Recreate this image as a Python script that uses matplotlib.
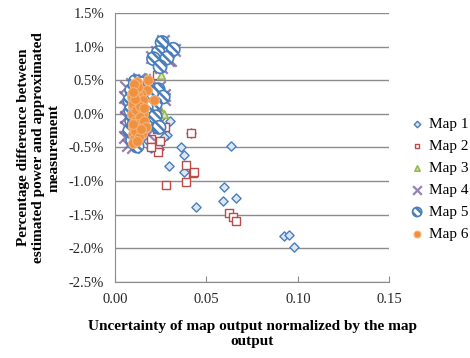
import matplotlib.pyplot as plt
from matplotlib.ticker import FuncFormatter

# Data (x: normalized uncertainty, y: percentage difference in %)
map1_x = [0.0635, 0.0597, 0.0590, 0.0660, 0.0925, 0.0950, 0.0980, 0.0416, 0.0361, 0.0378,
          0.0294, 0.0378, 0.0443, 0.0284, 0.0210, 0.0197, 0.0240, 0.0270, 0.0236, 0.0180,
          0.0150, 0.0120, 0.0100, 0.0130, 0.0160, 0.0210, 0.0250, 0.0300]
map1_y = [-0.48, -1.09, -1.29, -1.25, -1.82, -1.80, -1.98, -0.28, -0.49, -0.61,
          -0.77, -0.87, -1.39, -0.31, -0.19, -0.51, -0.52, -0.34, -0.49, -0.40,
          -0.30, -0.45, 0.10, 0.30, -0.20, 0.20, -0.05, -0.10]

map2_x = [0.0624, 0.0646, 0.0662, 0.0279, 0.0389, 0.0427, 0.0416, 0.0388, 0.0432, 0.0275,
          0.0230, 0.0197, 0.0246, 0.0236, 0.0197, 0.0230, 0.0160, 0.0120]
map2_y = [-1.47, -1.53, -1.59, -1.05, -1.02, -0.88, -0.28, -0.76, -0.86, -0.20,
          -0.23, -0.37, -0.40, -0.57, -0.50, 0.58, -0.10, 0.20]

map3_x = [0.0120, 0.0170, 0.0250, 0.0240, 0.0270, 0.0200, 0.0100, 0.0220]
map3_y = [-0.50, 0.55, 0.57, 0.10, 0.00, 0.30, -0.45, -0.05]

map4_x = [0.0260, 0.0320, 0.0230, 0.0290, 0.0200, 0.0250, 0.0240, 0.0270, 0.0220, 0.0060,
          0.0055, 0.0060, 0.0058, 0.0060, 0.0055, 0.0070, 0.0100, 0.0130, 0.0160, 0.0190,
          0.0210, 0.0180, 0.0120, 0.0090, 0.0300, 0.0270]
map4_y = [1.08, 0.95, 0.92, 0.80, 0.84, 0.70, 0.40, 0.28, -0.02, 0.40,
          0.25, 0.10, -0.05, -0.20, -0.35, -0.47, -0.50, 0.52, 0.50, 0.15,
          -0.10, -0.30, -0.40, 0.45, 0.80, 0.22]

map5_x = [0.0257, 0.0318, 0.0236, 0.0284, 0.0210, 0.0246, 0.0236, 0.0263, 0.0219, 0.0110,
          0.0090, 0.0080, 0.0085, 0.0090, 0.0080, 0.0095, 0.0120, 0.0150, 0.0180, 0.0200,
          0.0220, 0.0130, 0.0105, 0.0170, 0.0240]
map5_y = [1.06, 0.96, 0.91, 0.83, 0.82, 0.70, 0.36, 0.25, -0.04, 0.48,
          0.35, 0.20, 0.05, -0.10, -0.25, -0.40, -0.48, 0.45, 0.40, 0.30,
          0.15, -0.30, -0.15, 0.10, -0.20]

map6_x = [0.0120, 0.0180, 0.0210, 0.0175, 0.0140, 0.0120, 0.0090, 0.0095, 0.0100, 0.0090,
          0.0110, 0.0100, 0.0095, 0.0105, 0.0090, 0.0100, 0.0115, 0.0130, 0.0125, 0.0140,
          0.0150, 0.0135, 0.0120, 0.0110, 0.0160, 0.0145, 0.0130, 0.0115, 0.0100, 0.0125,
          0.0150, 0.0170, 0.0105, 0.0095, 0.0135, 0.0120, 0.0110, 0.0140, 0.0160, 0.0100]
map6_y = [0.47, 0.50, 0.21, 0.36, 0.30, 0.40, 0.30, 0.20, 0.10, 0.00,
          -0.10, -0.20, -0.30, -0.38, 0.25, 0.15, 0.05, 0.18, 0.28, 0.10,
          0.00, -0.05, -0.15, -0.25, -0.10, -0.30, -0.35, 0.35, -0.43, 0.40,
          0.20, -0.20, 0.45, -0.15, 0.12, -0.40, 0.22, -0.22, 0.08, 0.32]

plt.rcParams['font.family'] = ['Liberation Serif', 'DejaVu Serif']
plt.rcParams['hatch.linewidth'] = 1.8

fig = plt.figure(figsize=(4.70, 3.58), dpi=100)
ax = fig.add_axes([0.245, 0.212, 0.583, 0.752])

blue = '#4A7EBB'
ax.scatter(map1_x, map1_y, marker='D', s=22, facecolor='#DCE6F2', edgecolor=blue, linewidth=1.0, label='Map 1', zorder=3)
ax.scatter(map2_x, map2_y, marker='s', s=26, facecolor='white', edgecolor='#BE4B48', linewidth=1.0, label='Map 2', zorder=3)
ax.scatter(map3_x, map3_y, marker='^', s=30, facecolor='#D7E4BD', edgecolor='#98B954', linewidth=1.2, label='Map 3', zorder=3)
ax.scatter(map4_x, map4_y, marker='x', s=80, color='#7D60A0', linewidth=1.6, alpha=0.8, label='Map 4', zorder=3)
ax.scatter(map5_x, map5_y, marker='o', s=90, facecolor='white', edgecolor=blue, linewidth=1.2,
           hatch='\\' * 4, label='Map 5', zorder=3)
ax.scatter(map6_x, map6_y, marker='o', s=50, facecolor='#F0913F', edgecolor='#F5B27A', linewidth=0.8, label='Map 6', zorder=4)

ax.set_xlim(0, 0.15)
ax.set_ylim(-2.5, 1.5)
ax.set_xticks([0, 0.05, 0.10, 0.15])
ax.set_yticks([-2.5, -2.0, -1.5, -1.0, -0.5, 0.0, 0.5, 1.0, 1.5])
ax.xaxis.set_major_formatter(FuncFormatter(lambda v, p: f'{v:.2f}'))
ax.yaxis.set_major_formatter(FuncFormatter(lambda v, p: f'{v:.1f}%'))
ax.grid(axis='y', color='#8C8C8C', linewidth=1.0, zorder=0)
ax.set_axisbelow(True)
for side in ['top', 'right']:
    ax.spines[side].set_visible(False)
ax.spines['left'].set_color('#8C8C8C')
ax.spines['bottom'].set_color('#8C8C8C')
ax.tick_params(axis='both', length=4, color='#8C8C8C', labelsize=10.5, labelcolor='#262626')
ax.tick_params(axis='y', length=0, pad=8)
ax.tick_params(axis='x', direction='in', pad=8)

ax.set_xlabel('Uncertainty of map output normalized by the map\noutput', fontsize=11, fontweight='bold', labelpad=10)
ax.set_ylabel('Percentage difference between\nestimated power and approximated\nmeasurement', fontsize=11, fontweight='bold', labelpad=6)

fig.legend(loc='center left', bbox_to_anchor=(0.855, 0.5), frameon=False, fontsize=11,
           handlelength=1.0, handletextpad=0.3, labelspacing=0.55, markerscale=0.7, borderpad=0)

fig.savefig('out.png', dpi=100)
